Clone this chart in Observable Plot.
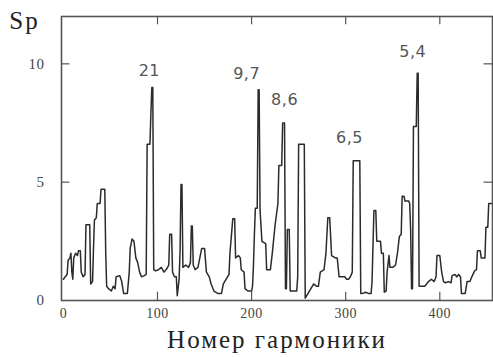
<!DOCTYPE html>
<html>
<head>
<meta charset="utf-8">
<script src="https://cdn.jsdelivr.net/npm/d3@7"></script>
<script src="https://cdn.jsdelivr.net/npm/@observablehq/plot@0.6"></script>
<style>
  html, body { margin: 0; padding: 0; background: #fff; }
  #chart { width: 493px; height: 357px; overflow: hidden; }
</style>
</head>
<body>
<div id="chart"></div>
<script>
// Amplitude spectrum Sp versus harmonic number
const harmonic = [
  0, 2, 4, 5, 7, 8, 9, 10, 11, 13, 15, 16, 18, 19, 21, 23, 24, 28, 29, 31,
  32, 33, 35, 36, 39, 40, 44, 45, 46, 48, 51, 53, 55, 56, 60, 62, 64, 68, 70, 71,
  73, 75, 77, 79, 81, 83, 86, 88, 89, 92, 93, 94, 95, 96, 98, 101, 104, 107, 110, 112,
  113, 115, 116, 118, 120, 121, 123, 124, 125, 126, 127, 130, 133, 135, 136, 137, 138, 140, 143, 145,
  147, 150, 152, 155, 157, 160, 164, 168, 170, 173, 176, 177, 180, 182, 183, 186, 188, 189, 192, 193,
  196, 200, 201, 202, 203, 204, 206, 207, 208, 209, 211, 215, 216, 220, 222, 225, 228, 229, 232, 233,
  235, 236, 237, 238, 240, 241, 248, 249, 250, 256, 257, 260, 263, 266, 269, 271, 273, 277, 279, 281,
  283, 285, 289, 291, 293, 296, 299, 301, 303, 305, 307, 308, 315, 316, 318, 321, 324, 327, 328, 330,
  332, 333, 337, 338, 340, 341, 343, 344, 346, 347, 350, 353, 355, 357, 359, 360, 362, 363, 367, 368,
  369, 370, 371, 372, 375, 376, 377, 378, 381, 384, 386, 388, 391, 394, 396, 397, 400, 402, 404, 406,
  409, 412, 413, 416, 418, 420, 422, 423, 427, 429, 432, 434, 437, 439, 440, 443, 444, 448, 449, 451,
  452, 455
];
const sp = [
  0.9, 1.0, 1.1, 1.7, 1.8, 2.0, 1.2, 0.9, 1.8, 2.0, 1.9, 2.1, 2.1, 1.2, 1.0, 1.1, 3.2, 3.2, 0.7, 0.8,
  2.2, 3.4, 3.5, 4.1, 4.1, 4.7, 4.7, 2.0, 0.6, 0.5, 0.4, 0.6, 0.5, 1.0, 1.05, 0.8, 0.3, 0.3, 1.2, 2.2,
  2.6, 2.5, 1.8, 1.6, 1.2, 1.0, 1.05, 1.1, 6.6, 6.6, 7.9, 9.0, 9.0, 1.3, 1.25, 1.3, 1.4, 1.2, 1.35, 1.5,
  2.8, 2.8, 1.2, 1.0, 1.0, 0.2, 0.9, 2.1, 4.9, 4.9, 1.4, 1.5, 1.4, 1.6, 3.15, 3.15, 1.5, 1.3, 1.4, 1.8,
  2.2, 2.2, 1.2, 1.0, 0.7, 0.4, 0.3, 0.3, 0.7, 0.9, 1.1, 2.0, 3.45, 3.45, 1.8, 1.9, 1.8, 1.3, 1.2, 0.5,
  0.4, 0.4, 0.6, 1.5, 2.8, 3.9, 3.9, 8.9, 8.9, 3.8, 2.5, 2.4, 1.3, 1.3, 2.0, 3.2, 4.1, 5.7, 5.7, 7.5,
  7.5, 0.5, 0.5, 3.0, 3.0, 0.4, 0.4, 1.0, 6.6, 6.6, 0.1, 0.3, 0.5, 0.7, 0.6, 0.6, 1.2, 1.3, 2.0, 3.5,
  3.5, 1.9, 1.8, 1.8, 1.0, 1.0, 1.0, 0.9, 0.9, 1.0, 1.2, 5.9, 5.9, 0.3, 0.3, 0.35, 0.3, 0.3, 0.8, 3.8,
  3.8, 2.5, 2.5, 2.0, 2.0, 0.35, 0.4, 1.2, 1.9, 1.4, 1.4, 1.5, 2.0, 2.7, 2.8, 4.4, 4.4, 4.2, 4.2, 4.1,
  3.0, 0.5, 0.5, 7.35, 7.35, 9.6, 9.6, 0.6, 0.6, 0.6, 0.7, 0.8, 0.9, 0.8, 1.0, 1.9, 1.9, 1.2, 0.8, 0.75,
  0.8, 0.75, 1.05, 1.1, 1.0, 1.1, 1.0, 0.3, 0.3, 0.8, 0.8, 1.0, 1.25, 1.3, 2.1, 2.1, 1.8, 1.8, 3.1, 3.1,
  4.1, 4.1
];

// Dominant peaks and their periods
const peakHarmonic = [94.5, 207.5, 234, 311.5, 376.5];
const peakSp = [9.0, 8.9, 7.5, 5.9, 9.6];
const peakPeriod = ["21", "9,7", "8,6", "6,5", "5,4"];

const xTicks = [0, 100, 200, 300, 400];
const yTicks = [0, 5, 10];
const yLabel = "Sp";
const xLabel = "Номер гармоники";

const spectrum = harmonic.map((h, i) => ({h, v: sp[i]}));
const peaks = peakHarmonic.map((h, i) => ({h, v: peakSp[i], label: peakPeriod[i]}));

// pixel nudges for the period labels above each peak
const nudge = [[-3, -17], [-12, -16], [1, -23], [-7, -23], [-5, -21]];

const serif = "Liberation Serif, DejaVu Serif, serif";
const ink = "#555";

const svg = Plot.plot({
  width: 493,
  height: 357,
  marginLeft: 61,
  marginRight: 1,
  marginTop: 16,
  marginBottom: 57,
  style: {background: "#fff"},
  x: {domain: [-2, 456], axis: null},
  y: {domain: [0, 12], axis: null},
  marks: [
    Plot.frame({stroke: ink, strokeWidth: 1.6}),
    // inward ticks on all four sides
    Plot.ruleX(xTicks.slice(1), {x: d => d, y1: 0, y2: 0.35, stroke: ink, strokeWidth: 1.2}),
    Plot.ruleX(xTicks.slice(1), {x: d => d, y1: 12, y2: 11.65, stroke: ink, strokeWidth: 1.2}),
    Plot.ruleY(yTicks.slice(1), {y: d => d, x1: -2, x2: 7, stroke: ink, strokeWidth: 1.2}),
    Plot.ruleY(yTicks.slice(1), {y: d => d, x1: 456, x2: 447, stroke: ink, strokeWidth: 1.2}),
    Plot.axisX({ticks: xTicks, tickSize: 0, tickPadding: 8, fontSize: 14, fontFamily: serif, fill: "#444", label: null, tickFormat: d => String(d)}),
    Plot.axisY({ticks: yTicks, tickSize: 0, tickPadding: 17, fontSize: 15, fontFamily: serif, fill: "#444", label: null, tickFormat: d => String(d)}),
    Plot.line(spectrum, {x: "h", y: "v", stroke: "#2b2b2b", strokeWidth: 1.5}),
    ...peaks.map((p, i) => Plot.text([p], {
      x: "h", y: "v", text: "label",
      dx: nudge[i][0], dy: nudge[i][1],
      fontSize: 16, fontFamily: "DejaVu Sans", fill: "#555"
    })),
    Plot.text([yLabel], {
      text: d => d, frameAnchor: "top-left", dx: -37, dy: 12,
      lineAnchor: "bottom", textAnchor: "middle", fontSize: 25, fontFamily: serif, fill: "#222"
    }),
    Plot.text([xLabel], {
      text: d => d, frameAnchor: "bottom", dy: 47,
      lineAnchor: "bottom", textAnchor: "middle", fontSize: 25, fontFamily: serif, fill: "#222"
    })
  ]
});

// letter spacing for the larger captions
d3.select(svg).selectAll("text").each(function () {
  const t = this.textContent;
  if (t === xLabel) this.setAttribute("letter-spacing", "2");
  else if (t === yLabel) this.setAttribute("letter-spacing", "2");
  else this.setAttribute("letter-spacing", "0.5");
});

document.getElementById("chart").appendChild(svg);
</script>
</body>
</html>
